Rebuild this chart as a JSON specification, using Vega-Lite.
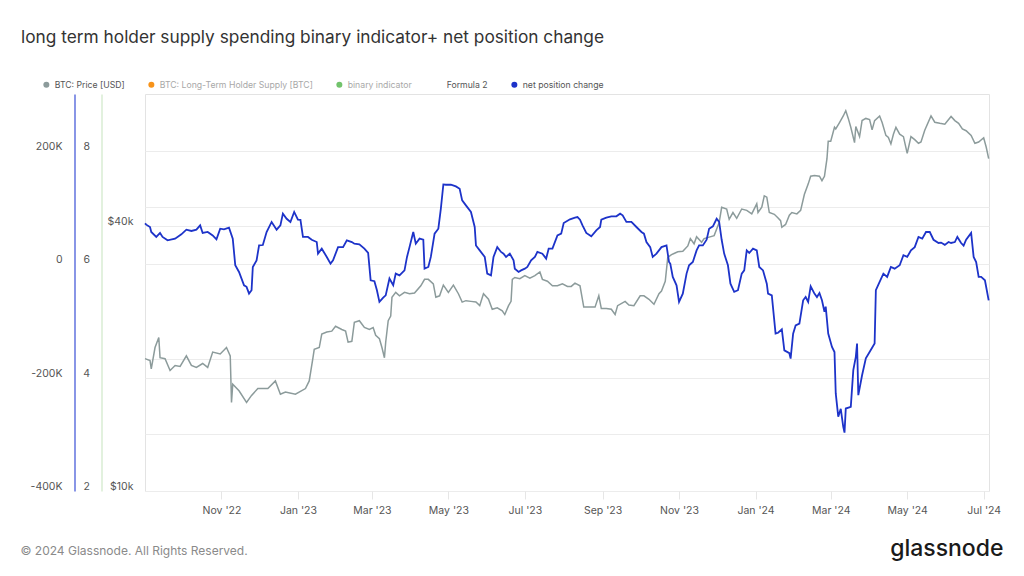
{
  "$schema": "https://vega.github.io/schema/vega-lite/v6.json",
  "width": 844,
  "height": 397,
  "autosize": {"type": "none"},
  "padding": {"left": 145, "top": 94, "right": 35, "bottom": 85},
  "background": "#ffffff",
  "config": {
    "font": "Inter",
    "view": {"stroke": "#e3e3e3", "strokeWidth": 1},
    "axis": {"labelFont": "Inter", "titleFont": "Inter", "labelColor": "#555555", "labelFontSize": 10.5, "gridColor": "#ececec", "gridWidth": 1}
  },
  "title": {
    "text": "long term holder supply spending binary indicator+ net position change",
    "anchor": "start",
    "frame": "group",
    "dx": -124,
    "offset": 20,
    "baseline": "alphabetic",
    "font": "Inter",
    "fontSize": 17.3,
    "fontWeight": 400,
    "color": "#333333"
  },
  "datasets": {
    "price": [
      {"date": "2022-09-01", "price": 20000}, {"date": "2022-09-05", "price": 19800}, {"date": "2022-09-06", "price": 18950},
      {"date": "2022-09-09", "price": 21200}, {"date": "2022-09-12", "price": 22350}, {"date": "2022-09-13", "price": 20100},
      {"date": "2022-09-17", "price": 20000}, {"date": "2022-09-21", "price": 18800}, {"date": "2022-09-25", "price": 19300},
      {"date": "2022-09-29", "price": 19200}, {"date": "2022-10-04", "price": 20300}, {"date": "2022-10-08", "price": 19300},
      {"date": "2022-10-12", "price": 19100}, {"date": "2022-10-17", "price": 19500}, {"date": "2022-10-21", "price": 19100},
      {"date": "2022-10-25", "price": 20700}, {"date": "2022-10-31", "price": 20500}, {"date": "2022-11-05", "price": 21200},
      {"date": "2022-11-08", "price": 20300}, {"date": "2022-11-09", "price": 15900}, {"date": "2022-11-10", "price": 17500},
      {"date": "2022-11-15", "price": 16900}, {"date": "2022-11-21", "price": 15900}, {"date": "2022-11-25", "price": 16500},
      {"date": "2022-11-30", "price": 17100}, {"date": "2022-12-08", "price": 17100}, {"date": "2022-12-14", "price": 17800},
      {"date": "2022-12-18", "price": 16600}, {"date": "2022-12-22", "price": 16800}, {"date": "2022-12-30", "price": 16600},
      {"date": "2023-01-07", "price": 17100}, {"date": "2023-01-10", "price": 17800}, {"date": "2023-01-13", "price": 20100},
      {"date": "2023-01-14", "price": 21000}, {"date": "2023-01-18", "price": 21200}, {"date": "2023-01-20", "price": 22750},
      {"date": "2023-01-24", "price": 23000}, {"date": "2023-01-28", "price": 23100}, {"date": "2023-01-31", "price": 23700},
      {"date": "2023-02-05", "price": 23300}, {"date": "2023-02-08", "price": 23100}, {"date": "2023-02-10", "price": 21800},
      {"date": "2023-02-13", "price": 21900}, {"date": "2023-02-15", "price": 24200}, {"date": "2023-02-19", "price": 24400},
      {"date": "2023-02-23", "price": 23550}, {"date": "2023-02-27", "price": 23300}, {"date": "2023-03-02", "price": 23550},
      {"date": "2023-03-04", "price": 22600}, {"date": "2023-03-07", "price": 22200}, {"date": "2023-03-09", "price": 21200},
      {"date": "2023-03-11", "price": 20100}, {"date": "2023-03-12", "price": 21800}, {"date": "2023-03-14", "price": 24400},
      {"date": "2023-03-16", "price": 25000}, {"date": "2023-03-17", "price": 27600}, {"date": "2023-03-20", "price": 28300},
      {"date": "2023-03-23", "price": 27800}, {"date": "2023-03-27", "price": 28300}, {"date": "2023-03-31", "price": 28100},
      {"date": "2023-04-04", "price": 28200}, {"date": "2023-04-09", "price": 29300}, {"date": "2023-04-12", "price": 30300},
      {"date": "2023-04-15", "price": 30300}, {"date": "2023-04-19", "price": 29600}, {"date": "2023-04-21", "price": 27600},
      {"date": "2023-04-24", "price": 27800}, {"date": "2023-04-27", "price": 29400}, {"date": "2023-05-01", "price": 28300},
      {"date": "2023-05-05", "price": 29400}, {"date": "2023-05-09", "price": 28100}, {"date": "2023-05-12", "price": 26900},
      {"date": "2023-05-15", "price": 27100}, {"date": "2023-05-19", "price": 27000}, {"date": "2023-05-23", "price": 26900},
      {"date": "2023-05-26", "price": 26400}, {"date": "2023-05-29", "price": 28100}, {"date": "2023-06-02", "price": 27300},
      {"date": "2023-06-05", "price": 25900}, {"date": "2023-06-09", "price": 26100}, {"date": "2023-06-13", "price": 25700},
      {"date": "2023-06-15", "price": 25200}, {"date": "2023-06-18", "price": 26400}, {"date": "2023-06-20", "price": 27000},
      {"date": "2023-06-21", "price": 30300}, {"date": "2023-06-23", "price": 30600}, {"date": "2023-06-27", "price": 30400},
      {"date": "2023-07-01", "price": 30900}, {"date": "2023-07-05", "price": 30500}, {"date": "2023-07-09", "price": 30900},
      {"date": "2023-07-13", "price": 31500}, {"date": "2023-07-15", "price": 30300}, {"date": "2023-07-19", "price": 30000},
      {"date": "2023-07-23", "price": 29300}, {"date": "2023-07-27", "price": 29300}, {"date": "2023-07-31", "price": 29600},
      {"date": "2023-08-04", "price": 29200}, {"date": "2023-08-07", "price": 29200}, {"date": "2023-08-10", "price": 29700},
      {"date": "2023-08-14", "price": 29300}, {"date": "2023-08-17", "price": 26200}, {"date": "2023-08-20", "price": 26200},
      {"date": "2023-08-26", "price": 26200}, {"date": "2023-08-29", "price": 27800}, {"date": "2023-08-31", "price": 26000},
      {"date": "2023-09-04", "price": 26000}, {"date": "2023-09-08", "price": 25900}, {"date": "2023-09-11", "price": 25200},
      {"date": "2023-09-13", "price": 26400}, {"date": "2023-09-19", "price": 27000}, {"date": "2023-09-22", "price": 26500},
      {"date": "2023-09-26", "price": 26400}, {"date": "2023-10-01", "price": 27800}, {"date": "2023-10-04", "price": 27800},
      {"date": "2023-10-08", "price": 27300}, {"date": "2023-10-12", "price": 26600}, {"date": "2023-10-16", "price": 28100},
      {"date": "2023-10-18", "price": 28500}, {"date": "2023-10-21", "price": 30000}, {"date": "2023-10-23", "price": 34000},
      {"date": "2023-10-26", "price": 34500}, {"date": "2023-10-28", "price": 34700}, {"date": "2023-10-31", "price": 35000},
      {"date": "2023-11-04", "price": 35100}, {"date": "2023-11-08", "price": 36100}, {"date": "2023-11-10", "price": 37500},
      {"date": "2023-11-13", "price": 36500}, {"date": "2023-11-15", "price": 37900}, {"date": "2023-11-19", "price": 36800},
      {"date": "2023-11-21", "price": 37500}, {"date": "2023-11-25", "price": 37800}, {"date": "2023-11-29", "price": 38100},
      {"date": "2023-12-03", "price": 40800}, {"date": "2023-12-05", "price": 44200}, {"date": "2023-12-09", "price": 43800},
      {"date": "2023-12-11", "price": 41500}, {"date": "2023-12-14", "price": 43000}, {"date": "2023-12-17", "price": 41700},
      {"date": "2023-12-21", "price": 43800}, {"date": "2023-12-25", "price": 43500}, {"date": "2023-12-29", "price": 42700},
      {"date": "2024-01-02", "price": 45000}, {"date": "2024-01-03", "price": 43000}, {"date": "2024-01-06", "price": 44200},
      {"date": "2024-01-08", "price": 46900}, {"date": "2024-01-10", "price": 46600}, {"date": "2024-01-12", "price": 43000},
      {"date": "2024-01-16", "price": 42600}, {"date": "2024-01-19", "price": 41800}, {"date": "2024-01-21", "price": 41200},
      {"date": "2024-01-22", "price": 39800}, {"date": "2024-01-25", "price": 40400}, {"date": "2024-01-28", "price": 42400},
      {"date": "2024-01-30", "price": 43000}, {"date": "2024-02-03", "price": 42700}, {"date": "2024-02-06", "price": 43500},
      {"date": "2024-02-09", "price": 47300}, {"date": "2024-02-12", "price": 49900}, {"date": "2024-02-14", "price": 52000},
      {"date": "2024-02-17", "price": 52200}, {"date": "2024-02-21", "price": 52000}, {"date": "2024-02-23", "price": 50800},
      {"date": "2024-02-25", "price": 52000}, {"date": "2024-02-26", "price": 54500}, {"date": "2024-02-27", "price": 57000},
      {"date": "2024-02-28", "price": 62500}, {"date": "2024-03-01", "price": 62500}, {"date": "2024-03-04", "price": 67200},
      {"date": "2024-03-05", "price": 66600}, {"date": "2024-03-08", "price": 68900}, {"date": "2024-03-11", "price": 71300},
      {"date": "2024-03-13", "price": 73300}, {"date": "2024-03-15", "price": 70400}, {"date": "2024-03-17", "price": 67200},
      {"date": "2024-03-20", "price": 62000}, {"date": "2024-03-21", "price": 67500}, {"date": "2024-03-24", "price": 64000},
      {"date": "2024-03-26", "price": 69600}, {"date": "2024-03-29", "price": 70400}, {"date": "2024-04-01", "price": 70000},
      {"date": "2024-04-03", "price": 66300}, {"date": "2024-04-05", "price": 69600}, {"date": "2024-04-09", "price": 71300},
      {"date": "2024-04-11", "price": 68900}, {"date": "2024-04-14", "price": 64400}, {"date": "2024-04-16", "price": 63700},
      {"date": "2024-04-18", "price": 61600}, {"date": "2024-04-20", "price": 64800}, {"date": "2024-04-22", "price": 67200},
      {"date": "2024-04-25", "price": 64800}, {"date": "2024-04-28", "price": 64000}, {"date": "2024-05-01", "price": 58600},
      {"date": "2024-05-04", "price": 64000}, {"date": "2024-05-07", "price": 63000}, {"date": "2024-05-10", "price": 61800},
      {"date": "2024-05-12", "price": 62200}, {"date": "2024-05-15", "price": 66200}, {"date": "2024-05-20", "price": 71300},
      {"date": "2024-05-23", "price": 69000}, {"date": "2024-05-27", "price": 68600}, {"date": "2024-05-31", "price": 68300},
      {"date": "2024-06-05", "price": 71100}, {"date": "2024-06-08", "price": 69600}, {"date": "2024-06-11", "price": 68600},
      {"date": "2024-06-14", "price": 66600}, {"date": "2024-06-17", "price": 66000}, {"date": "2024-06-21", "price": 64400},
      {"date": "2024-06-24", "price": 61800}, {"date": "2024-06-27", "price": 62200}, {"date": "2024-07-01", "price": 63600},
      {"date": "2024-07-03", "price": 60600}, {"date": "2024-07-05", "price": 57000}
    ],
    "net": [
      {"date": "2022-09-01", "net": 72000}, {"date": "2022-09-02", "net": 69600}, {"date": "2022-09-05", "net": 65500},
      {"date": "2022-09-06", "net": 56700}, {"date": "2022-09-10", "net": 48000}, {"date": "2022-09-13", "net": 55000},
      {"date": "2022-09-15", "net": 48000}, {"date": "2022-09-19", "net": 42000}, {"date": "2022-09-25", "net": 45000},
      {"date": "2022-09-30", "net": 52500}, {"date": "2022-10-04", "net": 60800}, {"date": "2022-10-08", "net": 58500},
      {"date": "2022-10-12", "net": 60800}, {"date": "2022-10-15", "net": 68400}, {"date": "2022-10-17", "net": 55000},
      {"date": "2022-10-21", "net": 56700}, {"date": "2022-10-25", "net": 50700}, {"date": "2022-10-28", "net": 43700},
      {"date": "2022-10-31", "net": 62500}, {"date": "2022-11-03", "net": 61300}, {"date": "2022-11-07", "net": 64300},
      {"date": "2022-11-10", "net": 45000}, {"date": "2022-11-12", "net": -2000}, {"date": "2022-11-15", "net": -13800},
      {"date": "2022-11-19", "net": -37300}, {"date": "2022-11-21", "net": -40000}, {"date": "2022-11-23", "net": -52000},
      {"date": "2022-11-25", "net": -46000}, {"date": "2022-11-26", "net": -5000}, {"date": "2022-11-29", "net": 6700},
      {"date": "2022-12-01", "net": 33000}, {"date": "2022-12-04", "net": 33700}, {"date": "2022-12-07", "net": 56700},
      {"date": "2022-12-11", "net": 74400}, {"date": "2022-12-15", "net": 60800}, {"date": "2022-12-18", "net": 68400},
      {"date": "2022-12-20", "net": 89000}, {"date": "2022-12-23", "net": 80000}, {"date": "2022-12-26", "net": 74400},
      {"date": "2022-12-29", "net": 92000}, {"date": "2023-01-01", "net": 78400}, {"date": "2023-01-03", "net": 78000},
      {"date": "2023-01-05", "net": 48000}, {"date": "2023-01-09", "net": 48000}, {"date": "2023-01-12", "net": 43000},
      {"date": "2023-01-16", "net": 39000}, {"date": "2023-01-17", "net": 18500}, {"date": "2023-01-20", "net": 27300},
      {"date": "2023-01-24", "net": 12700}, {"date": "2023-01-27", "net": 1000}, {"date": "2023-01-29", "net": 6700},
      {"date": "2023-02-02", "net": 30000}, {"date": "2023-02-06", "net": 30000}, {"date": "2023-02-09", "net": 42000},
      {"date": "2023-02-13", "net": 39000}, {"date": "2023-02-15", "net": 36000}, {"date": "2023-02-19", "net": 35000},
      {"date": "2023-02-23", "net": 27300}, {"date": "2023-02-26", "net": 19700}, {"date": "2023-02-28", "net": -28500},
      {"date": "2023-03-03", "net": -30000}, {"date": "2023-03-05", "net": -46000}, {"date": "2023-03-07", "net": -66600},
      {"date": "2023-03-10", "net": -59000}, {"date": "2023-03-12", "net": -55000}, {"date": "2023-03-15", "net": -25500},
      {"date": "2023-03-18", "net": -37300}, {"date": "2023-03-20", "net": -16700}, {"date": "2023-03-23", "net": -19700},
      {"date": "2023-03-27", "net": -11000}, {"date": "2023-03-29", "net": 12700}, {"date": "2023-03-31", "net": 30000},
      {"date": "2023-04-03", "net": 56700}, {"date": "2023-04-05", "net": 36000}, {"date": "2023-04-08", "net": 45000},
      {"date": "2023-04-11", "net": 43000}, {"date": "2023-04-12", "net": -8000}, {"date": "2023-04-15", "net": -5000},
      {"date": "2023-04-17", "net": 12700}, {"date": "2023-04-20", "net": 53700}, {"date": "2023-04-23", "net": 62500},
      {"date": "2023-04-25", "net": 97800}, {"date": "2023-04-27", "net": 140600}, {"date": "2023-04-29", "net": 140000},
      {"date": "2023-05-03", "net": 140000}, {"date": "2023-05-07", "net": 137000}, {"date": "2023-05-10", "net": 133000},
      {"date": "2023-05-12", "net": 112500}, {"date": "2023-05-15", "net": 103600}, {"date": "2023-05-19", "net": 92000},
      {"date": "2023-05-22", "net": 65500}, {"date": "2023-05-23", "net": 33000}, {"date": "2023-05-26", "net": 24300},
      {"date": "2023-05-30", "net": 12700}, {"date": "2023-06-01", "net": -16700}, {"date": "2023-06-04", "net": -19700},
      {"date": "2023-06-06", "net": 12700}, {"date": "2023-06-09", "net": 30000}, {"date": "2023-06-12", "net": 21500},
      {"date": "2023-06-14", "net": 18500}, {"date": "2023-06-16", "net": 12700}, {"date": "2023-06-19", "net": 18500},
      {"date": "2023-06-22", "net": 6700}, {"date": "2023-06-23", "net": -8000}, {"date": "2023-06-26", "net": -13800},
      {"date": "2023-06-28", "net": -11000}, {"date": "2023-07-01", "net": -8000}, {"date": "2023-07-03", "net": -5000},
      {"date": "2023-07-06", "net": 6700}, {"date": "2023-07-09", "net": 12700}, {"date": "2023-07-11", "net": 21500},
      {"date": "2023-07-15", "net": 18500}, {"date": "2023-07-18", "net": 9700}, {"date": "2023-07-20", "net": 27300},
      {"date": "2023-07-23", "net": 27300}, {"date": "2023-07-27", "net": 50700}, {"date": "2023-07-30", "net": 53700},
      {"date": "2023-08-01", "net": 72600}, {"date": "2023-08-06", "net": 79000}, {"date": "2023-08-10", "net": 82000},
      {"date": "2023-08-12", "net": 83000}, {"date": "2023-08-14", "net": 78400}, {"date": "2023-08-16", "net": 68400},
      {"date": "2023-08-19", "net": 55000}, {"date": "2023-08-23", "net": 49000}, {"date": "2023-08-27", "net": 59600},
      {"date": "2023-08-30", "net": 65500}, {"date": "2023-08-31", "net": 78400}, {"date": "2023-09-04", "net": 82000},
      {"date": "2023-09-08", "net": 84300}, {"date": "2023-09-12", "net": 84300}, {"date": "2023-09-15", "net": 89000},
      {"date": "2023-09-17", "net": 86000}, {"date": "2023-09-20", "net": 74400}, {"date": "2023-09-24", "net": 74400},
      {"date": "2023-09-28", "net": 65500}, {"date": "2023-10-02", "net": 56700}, {"date": "2023-10-04", "net": 53700},
      {"date": "2023-10-06", "net": 39000}, {"date": "2023-10-09", "net": 30000}, {"date": "2023-10-11", "net": 12700},
      {"date": "2023-10-14", "net": 18500}, {"date": "2023-10-18", "net": 30000}, {"date": "2023-10-22", "net": 33000},
      {"date": "2023-10-24", "net": 3800}, {"date": "2023-10-25", "net": 1000}, {"date": "2023-10-27", "net": -22500},
      {"date": "2023-10-30", "net": -37300}, {"date": "2023-11-01", "net": -66600}, {"date": "2023-11-04", "net": -52000},
      {"date": "2023-11-07", "net": -16700}, {"date": "2023-11-09", "net": -2000}, {"date": "2023-11-12", "net": 3800},
      {"date": "2023-11-15", "net": 24300}, {"date": "2023-11-17", "net": 33000}, {"date": "2023-11-20", "net": 33000},
      {"date": "2023-11-23", "net": 43000}, {"date": "2023-11-25", "net": 62500}, {"date": "2023-11-28", "net": 66600},
      {"date": "2023-12-01", "net": 80000}, {"date": "2023-12-03", "net": 74400}, {"date": "2023-12-05", "net": 43000},
      {"date": "2023-12-07", "net": 18500}, {"date": "2023-12-10", "net": -2000}, {"date": "2023-12-12", "net": -34400},
      {"date": "2023-12-15", "net": -49000}, {"date": "2023-12-18", "net": -46000}, {"date": "2023-12-21", "net": -16700},
      {"date": "2023-12-23", "net": -11000}, {"date": "2023-12-25", "net": 24300}, {"date": "2023-12-27", "net": 19700},
      {"date": "2023-12-30", "net": 27300}, {"date": "2024-01-02", "net": 24300}, {"date": "2024-01-04", "net": -5000},
      {"date": "2024-01-07", "net": -11000}, {"date": "2024-01-10", "net": -34400}, {"date": "2024-01-11", "net": -52000},
      {"date": "2024-01-14", "net": -55000}, {"date": "2024-01-17", "net": -122500}, {"date": "2024-01-19", "net": -121000},
      {"date": "2024-01-22", "net": -115000}, {"date": "2024-01-24", "net": -152000}, {"date": "2024-01-28", "net": -157000},
      {"date": "2024-01-29", "net": -166500}, {"date": "2024-01-31", "net": -122500}, {"date": "2024-02-02", "net": -108000},
      {"date": "2024-02-05", "net": -105000}, {"date": "2024-02-08", "net": -63800}, {"date": "2024-02-10", "net": -58000},
      {"date": "2024-02-12", "net": -66600}, {"date": "2024-02-14", "net": -39000}, {"date": "2024-02-17", "net": -52000},
      {"date": "2024-02-19", "net": -58000}, {"date": "2024-02-21", "net": -51000}, {"date": "2024-02-23", "net": -63800},
      {"date": "2024-02-25", "net": -84000}, {"date": "2024-02-26", "net": -75000}, {"date": "2024-02-28", "net": -122500},
      {"date": "2024-03-02", "net": -146000}, {"date": "2024-03-04", "net": -155000}, {"date": "2024-03-05", "net": -228000},
      {"date": "2024-03-07", "net": -269000}, {"date": "2024-03-09", "net": -255000}, {"date": "2024-03-11", "net": -287000},
      {"date": "2024-03-12", "net": -297000}, {"date": "2024-03-13", "net": -254600}, {"date": "2024-03-17", "net": -251700},
      {"date": "2024-03-19", "net": -187000}, {"date": "2024-03-21", "net": -163500}, {"date": "2024-03-22", "net": -140000},
      {"date": "2024-03-23", "net": -231000}, {"date": "2024-03-26", "net": -196000}, {"date": "2024-03-29", "net": -166000},
      {"date": "2024-04-01", "net": -155000}, {"date": "2024-04-05", "net": -140000}, {"date": "2024-04-06", "net": -46000},
      {"date": "2024-04-09", "net": -31400}, {"date": "2024-04-12", "net": -16700}, {"date": "2024-04-15", "net": -22500},
      {"date": "2024-04-18", "net": -5000}, {"date": "2024-04-21", "net": -8000}, {"date": "2024-04-25", "net": -2000},
      {"date": "2024-04-28", "net": 15600}, {"date": "2024-05-01", "net": 12700}, {"date": "2024-05-04", "net": 24300},
      {"date": "2024-05-07", "net": 30000}, {"date": "2024-05-10", "net": 48000}, {"date": "2024-05-13", "net": 45000},
      {"date": "2024-05-16", "net": 56700}, {"date": "2024-05-19", "net": 56700}, {"date": "2024-05-22", "net": 43000},
      {"date": "2024-05-26", "net": 37300}, {"date": "2024-05-28", "net": 38000}, {"date": "2024-05-31", "net": 34000},
      {"date": "2024-06-03", "net": 39000}, {"date": "2024-06-05", "net": 37300}, {"date": "2024-06-08", "net": 39000},
      {"date": "2024-06-10", "net": 48000}, {"date": "2024-06-13", "net": 37300}, {"date": "2024-06-15", "net": 32500},
      {"date": "2024-06-17", "net": 43000}, {"date": "2024-06-21", "net": 55000}, {"date": "2024-06-23", "net": 12700},
      {"date": "2024-06-25", "net": 3800}, {"date": "2024-06-27", "net": -22500}, {"date": "2024-06-29", "net": -22500},
      {"date": "2024-07-02", "net": -28500}, {"date": "2024-07-05", "net": -63800}
    ]
  },
  "layer": [
    {
      "data": {"name": "price"},
      "mark": {"type": "line", "strokeWidth": 1.5, "interpolate": "linear"},
      "encoding": {
        "x": {
          "field": "date", "type": "temporal",
          "scale": {"type": "utc", "domain": [{"year": 2022, "month": 9, "date": 1, "utc": true}, {"year": 2024, "month": 7, "date": 5, "hours": 6, "utc": true}]},
          "axis": {
            "title": null, "orient": "bottom",
            "labelExpr": "utcFormat(datum.value, \"%b '%y\")",
            "values": [
              {"year": 2022, "month": 11, "date": 1, "utc": true}, {"year": 2023, "month": 1, "date": 1, "utc": true},
              {"year": 2023, "month": 3, "date": 1, "utc": true}, {"year": 2023, "month": 5, "date": 1, "utc": true},
              {"year": 2023, "month": 7, "date": 1, "utc": true}, {"year": 2023, "month": 9, "date": 1, "utc": true},
              {"year": 2023, "month": 11, "date": 1, "utc": true}, {"year": 2024, "month": 1, "date": 1, "utc": true},
              {"year": 2024, "month": 3, "date": 1, "utc": true}, {"year": 2024, "month": 5, "date": 1, "utc": true},
              {"year": 2024, "month": 7, "date": 1, "utc": true}
            ],
            "grid": false, "domain": false, "ticks": true, "tickColor": "#e6e6e6", "tickSize": 8,
            "labelPadding": 6, "labelColor": "#555555", "labelFontSize": 10.5
          }
        },
        "y": {
          "field": "price", "type": "quantitative",
          "scale": {"type": "log", "domain": [10000, 80000], "nice": false},
          "axis": {
            "title": null, "orient": "left", "offset": 0, "values": [10000, 20000, 40000],
            "labelExpr": "datum.value == 20000 ? '' : '$' + (datum.value / 1000) + 'k'",
            "grid": true, "domain": false, "ticks": false, "tickSize": 0, "labelPadding": 12, "labelOffset": -4.5
          }
        },
        "color": {
          "datum": "BTC: Price [USD]", "type": "nominal",
          "scale": {
            "domain": ["BTC: Price [USD]", "BTC: Long-Term Holder Supply [BTC]", "binary indicator", "Formula 2", "net position change"],
            "range": ["#8c9b9b", "#f7931a", "#72c36c", "#ffffff", "#1d33c9"]
          },
          "legend": {
            "title": null, "orient": "none", "direction": "horizontal", "legendX": -103, "legendY": -14,
            "symbolType": "circle", "symbolSize": 36,
            "labelFont": "Inter", "labelFontSize": 8.7, "labelColor": "#555555", "labelOffset": 4, "columnPadding": 22,
            "labelLimit": 300,
            "encode": {
              "symbols": {"update": {
                "fill": {"scale": "color", "field": "value"},
                "stroke": {"value": "transparent"},
                "strokeWidth": {"value": 0},
                "opacity": {"signal": "datum.label == 'Formula 2' ? 0 : 1"}
              }},
              "labels": {"update": {"fill": {"signal": "(datum.label == 'binary indicator' || datum.label == 'BTC: Long-Term Holder Supply [BTC]') ? '#a8a8a8' : '#555555'"}}}
            }
          }
        }
      }
    },
    {
      "data": {"name": "net"},
      "mark": {"type": "line", "strokeWidth": 1, "strokeOpacity": 0, "color": "#1d33c9"},
      "encoding": {
        "x": {
          "field": "date", "type": "temporal",
          "axis": {
            "orient": "bottom", "labels": false, "ticks": false, "domain": false, "grid": false,
            "title": "© 2024 Glassnode. All Rights Reserved.",
            "titleX": -125, "titleY": 59, "titleAnchor": "start", "titleAlign": "left", "titleBaseline": "middle",
            "titleFont": "Inter", "titleFontSize": 12, "titleFontWeight": 400, "titleColor": "#8a8a8a"
          }
        },
        "y": {
          "field": "net", "type": "quantitative",
          "scale": {"domain": [-400000, 300000], "nice": false, "zero": false},
          "axis": {
            "title": null, "orient": "left", "offset": 43.5, "values": [-400000, -200000, 0, 200000],
            "labelExpr": "'' + (6 + datum.value / 100000)",
            "grid": false, "domain": true, "domainColor": "#cfe8c8", "domainWidth": 1.2,
            "ticks": false, "tickSize": 0, "labelPadding": 12, "labelOffset": -4.5
          }
        }
      }
    },
    {
      "data": {"name": "net"},
      "mark": {"type": "line", "strokeWidth": 1.8, "interpolate": "linear"},
      "encoding": {
        "x": {
          "field": "date", "type": "temporal",
          "axis": {
            "orient": "bottom", "labels": false, "ticks": false, "domain": false, "grid": false,
            "title": "glassnode",
            "titleX": 858, "titleY": 57, "titleAnchor": "end", "titleAlign": "right", "titleBaseline": "middle",
            "titleFont": "Inter", "titleFontSize": 23, "titleFontWeight": 500, "titleColor": "#1a1a1a"
          }
        },
        "y": {
          "field": "net", "type": "quantitative",
          "scale": {"domain": [-400000, 300000], "nice": false, "zero": false},
          "axis": {
            "title": null, "orient": "left", "offset": 70.5, "values": [-400000, -300000, -200000, 0, 100000, 200000],
            "labelExpr": "(datum.value == 100000 || datum.value == -300000) ? '' : (datum.value == 0 ? '0' : (datum.value < 0 ? '-' : '') + (abs(datum.value) / 1000) + 'K')",
            "grid": true, "domain": true, "domainColor": "#3a4fd6", "domainWidth": 1.2,
            "ticks": false, "tickSize": 0, "labelPadding": 12.5, "labelOffset": -4.5
          }
        },
        "color": {"datum": "net position change", "type": "nominal"}
      }
    }
  ],
  "resolve": {"scale": {"y": "independent"}, "axis": {"x": "independent", "y": "independent"}}
}
